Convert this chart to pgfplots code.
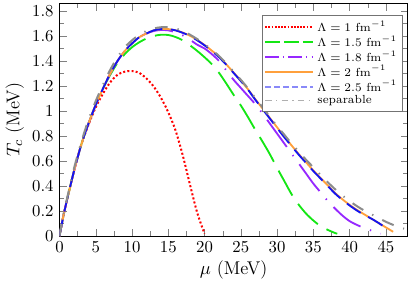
\documentclass[border=0pt]{standalone}
\usepackage{pgfplots}
\pgfplotsset{compat=1.18}
\definecolor{lgreen}{RGB}{20,230,20}
\definecolor{cpurple}{RGB}{150,40,255}
\definecolor{corange}{RGB}{255,160,60}
\definecolor{cblue}{RGB}{20,20,240}
\definecolor{cgray}{RGB}{140,140,140}
\begin{document}
\begin{tikzpicture}
\begin{axis}[
  scale only axis,
  width=208pt, height=139pt,
  xmin=0, xmax=48, ymin=0, ymax=1.86,
  xtick={0,5,...,45}, ytick={0,0.2,...,1.8},
  minor x tick num=1, minor y tick num=1,
  tick align=inside,
  xlabel={\fontsize{11}{13}\selectfont $\mu$ (MeV)},
  ylabel={\fontsize{11}{13}\selectfont $T_c$ (MeV)},
  xlabel style={yshift=2pt},
  ylabel style={yshift=-2pt},
  legend style={at={(0.985,0.95)}, anchor=north east, font=\scriptsize,
    draw=black!55, row sep=-2.9pt, inner sep=1pt, inner xsep=1pt,
    nodes={inner xsep=2pt}},
  legend cell align=left,
]
\addplot[red, line width=1.2pt, dash pattern=on 1.2pt off 1.3pt, smooth,
  legend image code/.code={\draw[draw=red, line width=1.1pt, dash pattern=on 1.1pt off 0.8pt] (0cm,0cm) -- (1cm,0cm);}]
coordinates {(0,0) (0.5,0.15) (1,0.28) (2,0.52) (3,0.73) (4,0.89) (5,1.03) (6,1.14) (7,1.23) (8,1.29) (9,1.315) (10,1.32) (11,1.305) (12,1.26) (13,1.195) (14,1.105) (15,0.99) (16,0.845) (17,0.645) (18,0.41) (19,0.185) (20,0.02)};
\addlegendentry{$\Lambda = 1~\mathrm{fm}^{-1}$}
\addplot[draw=lgreen, line width=1.1pt, dash pattern=on 17pt off 6pt, smooth,
  legend image code/.code={\draw[draw=lgreen, line width=1.4pt, dash pattern=on 9pt off 2.2pt] (0cm,0cm) -- (1cm,0cm);}]
coordinates {(0,0) (0.5,0.15) (1,0.28) (2,0.52) (3,0.73) (4,0.90) (5,1.05) (6,1.18) (7,1.29) (8,1.385) (9,1.455) (10,1.51) (11,1.55) (12,1.58) (13,1.60) (14,1.61) (15,1.608) (16,1.592) (17,1.565) (18,1.525) (19,1.48) (20,1.43) (21,1.375) (22,1.305) (23,1.22) (24,1.13) (25,1.045) (26,0.95) (27,0.85) (28,0.755) (29,0.655) (30,0.545) (31,0.44) (32,0.335) (33,0.25) (34,0.18) (35,0.125) (36,0.08) (37,0.05) (38,0.025) (38.3,0.02)};
\addlegendentry{$\Lambda = 1.5~\mathrm{fm}^{-1}$}
\addplot[cpurple, line width=1.1pt, dash pattern=on 20pt off 6pt on 0.8pt off 6pt, smooth,
  legend image code/.code={\draw[draw=cpurple, line width=1.4pt, dash pattern=on 8pt off 2.5pt on 0.8pt off 2.5pt] (0cm,0cm) -- (1cm,0cm);}]
coordinates {(0,0) (0.5,0.15) (1,0.28) (2,0.52) (3,0.73) (4,0.90) (5,1.05) (6,1.18) (7,1.30) (8,1.40) (9,1.48) (10,1.54) (11,1.59) (12,1.62) (13,1.64) (14,1.648) (15,1.645) (16,1.63) (17,1.605) (18,1.57) (19,1.53) (20,1.50) (21,1.455) (22,1.40) (23,1.325) (24,1.25) (25,1.185) (26,1.12) (27,1.055) (28,0.98) (29,0.90) (30,0.82) (31,0.74) (32,0.66) (33,0.58) (34,0.50) (35,0.42) (36,0.35) (37,0.28) (38,0.22) (39,0.165) (40,0.12) (41,0.09) (42,0.065) (43,0.045) (44,0.025) (44.3,0.02)};
\addlegendentry{$\Lambda = 1.8~\mathrm{fm}^{-1}$}
\addplot[corange, line width=1.1pt, smooth,
  legend image code/.code={\draw[draw=corange, line width=1.4pt] (0cm,0cm) -- (1cm,0cm);}]
coordinates {(0,0) (0.5,0.15) (1,0.28) (2,0.52) (3,0.73) (4,0.90) (5,1.05) (6,1.18) (7,1.30) (8,1.40) (9,1.48) (10,1.54) (11,1.59) (12,1.62) (13,1.645) (14,1.655) (15,1.655) (16,1.645) (17,1.627) (18,1.602) (19,1.568) (20,1.528) (21,1.483) (22,1.433) (23,1.373) (24,1.308) (25,1.243) (26,1.173) (27,1.095) (28,1.02) (29,0.945) (30,0.87) (31,0.795) (32,0.725) (33,0.655) (34,0.59) (35,0.525) (36,0.465) (37,0.405) (38,0.345) (39,0.295) (40,0.25) (41,0.21) (42,0.175) (43,0.14) (44,0.105) (45,0.07) (46,0.035)};
\addlegendentry{$\Lambda = 2~\mathrm{fm}^{-1}$}
\addplot[cblue, line width=1.1pt, dash pattern=on 10pt off 5pt, smooth,
  legend image code/.code={\draw[draw=cblue!50, line width=1.4pt, dash pattern=on 3.6pt off 1.8pt] (0cm,0cm) -- (1cm,0cm);}]
coordinates {(0,0) (0.5,0.15) (1,0.28) (2,0.52) (3,0.73) (4,0.90) (5,1.05) (6,1.18) (7,1.30) (8,1.40) (9,1.48) (10,1.54) (11,1.59) (12,1.62) (13,1.645) (14,1.655) (15,1.655) (16,1.645) (17,1.625) (18,1.60) (19,1.565) (20,1.525) (21,1.48) (22,1.43) (23,1.37) (24,1.305) (25,1.24) (26,1.17) (27,1.09) (28,1.015) (29,0.94) (30,0.865) (31,0.79) (32,0.72) (33,0.65) (34,0.585) (35,0.52) (36,0.46) (37,0.40) (38,0.34) (39,0.29) (40,0.245) (41,0.205) (42,0.17) (43,0.14) (44,0.105) (44.7,0.078)};
\addlegendentry{$\Lambda = 2.5~\mathrm{fm}^{-1}$}
\addplot[cgray, line width=1.2pt, dash pattern=on 7.5pt off 6pt on 0.8pt off 6pt, smooth,
  legend image code/.code={\draw[draw=cgray!70, line width=0.9pt, dash pattern=on 4pt off 2.5pt on 0.7pt off 2.5pt] (0cm,0cm) -- (1cm,0cm);}]
coordinates {(0,0) (0.5,0.16) (1,0.29) (2,0.54) (3,0.75) (4,0.93) (5,1.08) (6,1.21) (7,1.33) (8,1.43) (9,1.51) (10,1.565) (11,1.61) (12,1.64) (13,1.66) (14,1.67) (15,1.67) (16,1.66) (17,1.64) (18,1.61) (19,1.575) (20,1.535) (21,1.49) (22,1.44) (23,1.38) (24,1.315) (25,1.25) (26,1.18) (27,1.105) (28,1.03) (29,0.955) (30,0.88) (31,0.81) (32,0.74) (33,0.675) (34,0.61) (35,0.55) (36,0.49) (37,0.43) (38,0.375) (39,0.325) (40,0.28) (41,0.24) (42,0.205) (43,0.175) (44,0.145) (45,0.115) (46,0.09) (47,0.07) (47.5,0.06)};
\addlegendentry{separable}
\end{axis}
\end{tikzpicture}
\end{document}
